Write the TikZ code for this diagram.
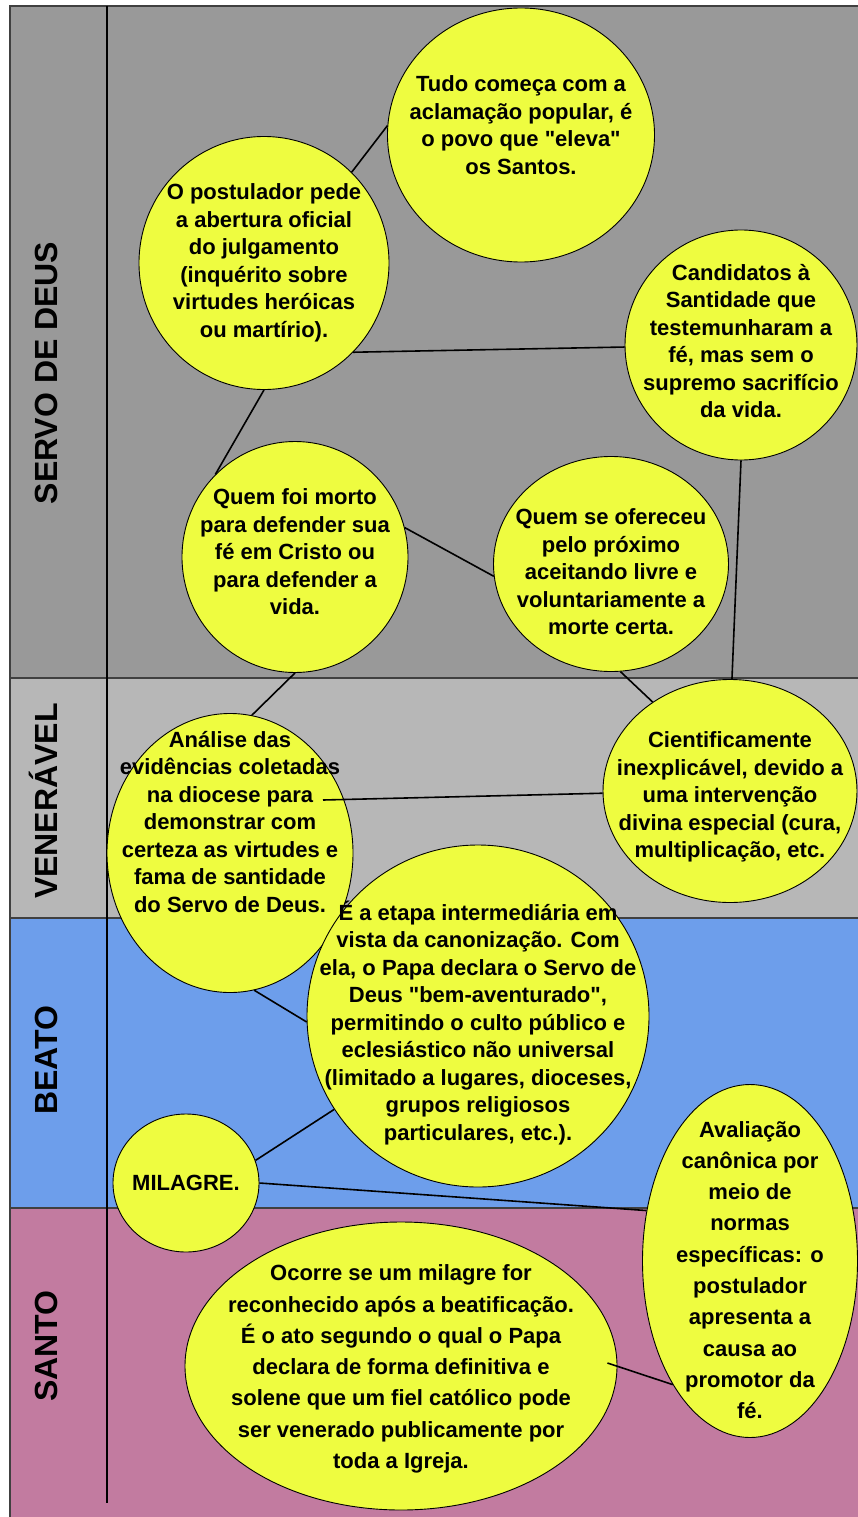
\documentclass[tikz,border=0pt]{standalone}
\usepackage{fontspec}
\setmainfont{Liberation Sans}[Ligatures=TeXOff]
\usetikzlibrary{shapes.geometric}
\usetikzlibrary{positioning}

\definecolor{cinzaescuro}{RGB}{153,153,153}
\definecolor{cinzaclaro}{RGB}{183,183,183}
\definecolor{azul}{RGB}{109,158,235}
\definecolor{malva}{RGB}{194,123,160}
\definecolor{amarelo}{RGB}{238,252,64}

\begin{document}
\begin{tikzpicture}[
  x=1pt, y=-1pt,
  faixa/.style={draw=black!75, line width=1.2pt},
  etapa/.style={font=\bfseries\fontsize{32}{36}\selectfont, rotate=90, anchor=base},
  balao/.style={draw, ellipse, fill=amarelo, line width=0.9pt, inner sep=0pt},
  texto/.style={align=center, inner sep=0pt, font=\bfseries\fontsize{22}{27.5}\selectfont},
  textolargo/.style={align=center, inner sep=0pt, font=\bfseries\fontsize{22}{31.3}\selectfont},
  liga/.style={line width=1.6pt, black},
]
\useasboundingbox (0,0) rectangle (857,1517);

% faixas das etapas
\foreach [count=\i] \ytop/\ybot/\cor/\ymeio/\rotulo in {
    6/678/cinzaescuro/373/SERVO DE DEUS,
    678/918/cinzaclaro/801/VENERÁVEL,
    918/1208/azul/1060/BEATO,
    1208/1530/malva/1346/SANTO} {
  \draw[faixa, fill=\cor] (10,\ytop) rectangle (870,\ybot);
  \node (etapa\i) [etapa] at (57,\ymeio) {\rotulo};
}
\draw[line width=1.6pt] (107,6) -- (107,1503);

% servo de deus
\node (tudo) [balao, minimum width=267, minimum height=254,
  label={[texto, yshift=10pt]center:{Tudo começa com a\\aclamação popular, é\\o povo que "eleva"\\os Santos.}}] at (521,135) {};
\node (postulador) [balao, minimum width=250, minimum height=253,
  label={[texto]center:{O postulador pede\\a abertura oficial\\do julgamento\\(inquérito sobre\\virtudes heróicas\\ou martírio).}}] at (264,263) {};
\node (candidatos) [balao, minimum width=232, minimum height=230,
  label={[texto, yshift=4pt]center:{Candidatos à\\Santidade que\\testemunharam a\\fé, mas sem o\\supremo sacrifício\\da vida.}}] at (741,345) {};
\node (quemfoi) [balao, minimum width=226, minimum height=231,
  label={[texto, yshift=5pt]center:{Quem foi morto\\para defender sua\\fé em Cristo ou\\para defender a\\vida.}}] at (295,557) {};
\node (quemse) [balao, minimum width=235, minimum height=215,
  label={[texto, yshift=-8pt]center:{Quem se ofereceu\\pelo próximo\\aceitando livre e\\voluntariamente a\\morte certa.}}] at (611,564) {};

% veneravel
\node (cient) [balao, minimum width=254, minimum height=223,
  label={[texto, yshift=-6pt]center:{Cientificamente\\inexplicável, devido a\\uma intervenção\\divina especial (cura,\\multiplicação, etc.}}] at (730,791) {};
\node (analise) [balao, minimum width=246, minimum height=279,
  label={[texto, yshift=31pt]center:{Análise das\\evidências coletadas\\na diocese para\\demonstrar com\\certeza as virtudes e\\fama de santidade\\do Servo de Deus.}}] at (230,853) {};

% beato
\node (beato) [balao, minimum width=342, minimum height=342,
  label={[texto, yshift=-7pt]center:{É a etapa intermediária em\\vista da canonização. Com\\ela, o Papa declara o Servo de\\Deus "bem-aventurado",\\permitindo o culto público e\\eclesiástico não universal\\(limitado a lugares, dioceses,\\grupos religiosos\\particulares, etc.).}}] at (478,1016) {};
\node (milagre) [balao, minimum width=146, minimum height=138,
  label={[texto]center:{MILAGRE.}}] at (186,1183) {};

% santo
\node (ocorre) [balao, minimum width=432, minimum height=288,
  label={[textolargo, yshift=-3pt]center:{Ocorre se um milagre for\\reconhecido após a beatificação.\\É o ato segundo o qual o Papa\\declara de forma definitiva e\\solene que um fiel católico pode\\ser venerado publicamente por\\toda a Igreja.}}] at (401,1366) {};
\node (avaliacao) [balao, minimum width=215, minimum height=353,
  label={[textolargo, yshift=-9pt]center:{Avaliação\\canônica por\\meio de\\normas\\específicas: o\\postulador\\apresenta a\\causa ao\\promotor da\\fé.}}] at (750,1261) {};

% ligacoes
\draw[liga] (postulador.46) -- (tudo.176);
\draw[liga] (postulador.315) -- (candidatos.181);
\draw[liga] (postulador.270) -- (quemfoi.134);
\draw[liga] (quemfoi.15) -- (quemse.186);
\draw[liga] (quemfoi.270) -- (analise.81);
\draw[liga] (quemse.275) -- (cient.131);
\draw[liga] (candidatos.270) -- (cient.89);
\draw[liga] ([xshift=93pt, yshift=53pt]analise.center) -- (cient.181);
\draw[liga] (analise.280) -- (beato.182);
\draw[liga] (milagre.18) -- (beato.213);
\draw[liga] (milagre.0) -- (avaliacao.154);
\draw[liga] ([xshift=-10pt, yshift=3pt]ocorre.east) -- (avaliacao.238);
\end{tikzpicture}
\end{document}
